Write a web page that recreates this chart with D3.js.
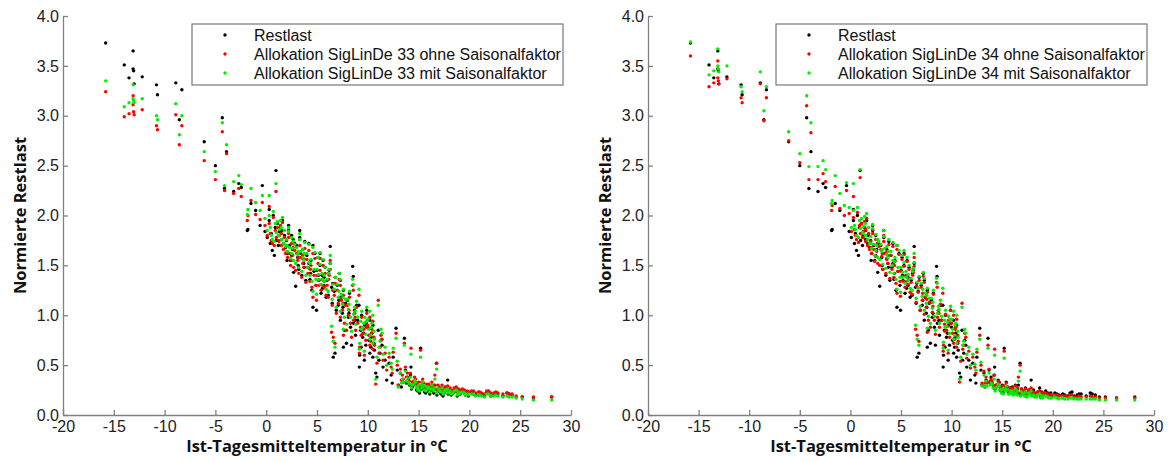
<!DOCTYPE html>
<html lang="de">
<head>
<meta charset="utf-8">
<title>Normierte Restlast</title>
<script src="https://d3js.org/d3.v7.min.js"></script>
<style>
  body { margin: 0; background: #fff; }
  svg { display: block; font-family: "Liberation Sans", Arial, sans-serif; }
  .axis path, .axis line { stroke: #808080; stroke-width: 1.3; }
  .axis text { font-size: 16px; fill: #222; }
  .title { font-family: "Open Sans", sans-serif; font-weight: bold; font-size: 16.5px; fill: #111; }
  .legend text { font-size: 16px; fill: #111; }
</style>
</head>
<body>
<div id="chart"></div>
<script>
// Ist-Tagesmitteltemperatur (°C), one entry per day, grouped by temperature band
var temp = [
  -15.8, -13.97, -13.5, -13.1, -13.1, -13.05, -13.0, -12.2, -10.8, -10.7, -8.9, -8.55, -8.3, -6.1, -5.0, -4.32, -3.9, -4.1, -3.2, -2.7, -2.45, -1.5, -1.8, -1.04, -0.6, -0.38, 0.3, 0.96, -1.86, -0.12,
  0.1, 0.3, 0.5, 0.6, 0.8, 0.9, 1.0, 0.7,
  1.1, 1.2, 1.3, 1.4, 1.5, 1.6, 1.7, 1.8, 1.9, 1.5,
  2.0, 2.1, 2.2, 2.3, 2.4, 2.5, 2.6, 2.7, 2.8, 2.9, 2.5, 2.2,
  3.0, 3.1, 3.2, 3.3, 3.4, 3.5, 3.6, 3.7, 3.8, 3.9, 3.3, 3.6,
  4.0, 4.1, 4.2, 4.3, 4.4, 4.5, 4.6, 4.7, 4.8, 4.9, 4.2, 4.6, 4.95,
  5.0, 5.1, 5.2, 5.3, 5.4, 5.5, 5.6, 5.7, 5.8, 5.9, 5.3, 5.7,
  6.0, 6.1, 6.2, 6.3, 6.44, 6.5, 6.6, 6.77, 6.8, 6.9, 6.3, 6.7,
  7.0, 7.1, 7.2, 7.3, 7.4, 7.5, 7.6, 7.7, 7.8, 7.9, 7.3, 7.6,
  8.0, 8.1, 8.2, 8.3, 8.51, 8.57, 8.6, 8.7, 8.8, 8.9, 8.4,
  9.0, 9.13, 9.17, 9.3, 9.4, 9.5, 9.66, 9.7, 9.8, 9.9, 9.2, 9.6,
  10.0, 10.1, 10.2, 10.3, 10.4, 10.5, 10.6, 10.78, 10.9, 10.5, 10.2,
  11.03, 11.2, 11.4, 11.5, 11.7, 11.86, 11.3,
  12.1, 12.3, 12.5, 12.78, 12.9, 12.4,
  13.0, 13.2, 13.4, 13.6, 13.8, 13.3, 13.7, 13.9,
  14.0, 14.25, 14.4, 14.6, 14.8, 14.2, 14.5, 14.9, 14.7,
  15.0, 15.2, 15.3, 15.5, 15.6, 15.8, 15.4, 15.9, 15.1,
  16.0, 16.2, 16.4, 16.6, 16.77, 16.9, 16.5, 16.3,
  17.0, 17.3, 17.5, 17.86, 17.7, 17.2,
  18.1, 18.4, 18.7, 19.0, 19.3, 19.6, 18.9, 19.8,
  20.2, 20.6, 21.0, 21.5, 21.9, 22.4, 22.8, 23.3, 23.7, 24.2, 24.6, 21.2, 23.9,
  25.2, 26.3, 28.1,
  13.5, 14.1, 14.3, 14.9, 15.3, 15.7, 16.1, 16.5, 16.8, 17.1, 17.4, 17.6, 17.9, 18.2, 18.5, 18.8, 19.1, 19.5, 19.9, 20.4, 20.9, 21.7, 22.1, 22.6,
  0.4, 1.25, 2.05, 2.65, 3.15, 3.75, 4.35, 5.15, 5.55, 6.15, 6.55, 7.15, 7.55, 8.15, 8.75, 9.35, 9.85, 10.35, 10.65, 11.1
];

// Restlast (black), same in both panels
var restlast = [
  3.73, 3.51, 3.38, 3.65, 3.47, 3.45, 3.32, 3.39, 3.31, 3.21, 3.33, 2.96, 3.26, 2.74, 2.50, 2.98, 2.64, 2.27, 2.24, 2.32, 2.28, 2.12, 1.86, 2.05, 1.90, 2.30, 2.06, 2.45, 1.85, 1.84,
  1.78, 1.95, 1.82, 1.65, 1.60, 1.88, 1.75, 2.00,
  1.92, 1.70, 1.84, 1.88, 1.76, 1.95, 1.72, 1.80, 1.68, 1.85,
  1.75, 1.62, 1.85, 1.70, 1.55, 1.80, 1.66, 1.43, 1.72, 1.29, 1.60, 1.90,
  1.70, 1.58, 1.46, 1.78, 1.62, 1.40, 1.66, 1.52, 1.74, 1.35, 1.85, 1.57,
  1.60, 1.48, 1.72, 1.36, 1.55, 1.25, 1.08, 1.44, 1.62, 1.30, 1.52, 1.70, 1.05,
  1.45, 1.58, 1.35, 1.50, 1.22, 1.40, 1.55, 1.30, 1.48, 1.18, 1.62, 1.38,
  1.35, 1.20, 1.45, 1.69, 1.28, 1.12, 0.58, 0.62, 1.38, 1.05, 1.52, 1.24,
  1.30, 1.10, 1.42, 0.95, 1.18, 1.02, 1.25, 0.85, 1.12, 0.72, 1.35, 0.68,
  1.15, 0.98, 1.22, 0.88, 1.49, 1.39, 0.92, 1.05, 0.80, 1.10, 0.70,
  0.95, 1.10, 0.48, 0.85, 1.00, 0.78, 0.55, 0.90, 0.70, 1.05, 0.60, 0.82,
  0.88, 0.75, 0.95, 0.68, 0.82, 0.58, 0.72, 0.42, 0.38, 0.90, 0.62,
  0.85, 0.62, 0.70, 0.48, 0.55, 0.35, 0.75,
  0.52, 0.40, 0.58, 0.87, 0.45, 0.32,
  0.30, 0.42, 0.35, 0.77, 0.32, 0.28, 0.45, 0.38,
  0.32, 0.48, 0.28, 0.35, 0.25, 0.40, 0.30, 0.27, 0.33,
  0.30, 0.67, 0.26, 0.28, 0.23, 0.27, 0.33, 0.24, 0.22,
  0.28, 0.25, 0.24, 0.30, 0.52, 0.26, 0.22, 0.30,
  0.24, 0.27, 0.22, 0.35, 0.25, 0.21,
  0.25, 0.22, 0.27, 0.21, 0.24, 0.20, 0.23, 0.22,
  0.22, 0.20, 0.21, 0.19, 0.23, 0.20, 0.21, 0.19, 0.22, 0.20, 0.18, 0.20, 0.21,
  0.18, 0.17, 0.18,
  0.33, 0.30, 0.26, 0.24, 0.29, 0.22, 0.21, 0.26, 0.20, 0.23, 0.19, 0.24, 0.21, 0.20, 0.23, 0.19, 0.21, 0.22, 0.19, 0.21, 0.20, 0.22, 0.19, 0.21,
  1.72, 1.80, 1.55, 1.76, 1.50, 1.48, 1.42, 1.40, 1.27, 1.42, 1.32, 1.15, 1.08, 1.02, 0.95, 0.68, 0.92, 0.78, 0.65, 0.55
];

// Allokation SigLinDe 33 ohne Saisonalfaktor (red, left panel)
var sig33ohne = [
  3.24, 2.99, 3.02, 3.20, 3.11, 3.04, 3.01, 3.06, 2.90, 2.86, 3.01, 2.71, 2.90, 2.55, 2.36, 2.84, 2.62, 2.25, 2.22, 2.27, 2.19, 2.15, 2.00, 2.01, 1.96, 2.13, 2.09, 2.24, 1.95, 1.90,
  1.80, 1.92, 1.75, 1.72, 1.70, 1.85, 1.78, 1.98,
  1.88, 1.75, 1.80, 1.90, 1.70, 1.93, 1.66, 1.78, 1.62, 1.82,
  1.70, 1.58, 1.78, 1.62, 1.50, 1.72, 1.60, 1.48, 1.65, 1.45, 1.55, 1.82,
  1.62, 1.55, 1.42, 1.70, 1.58, 1.38, 1.60, 1.48, 1.67, 1.33, 1.76, 1.52,
  1.56, 1.42, 1.65, 1.34, 1.50, 1.28, 1.18, 1.40, 1.57, 1.30, 1.47, 1.62, 1.15,
  1.40, 1.52, 1.30, 1.45, 1.25, 1.36, 1.50, 1.28, 1.42, 1.20, 1.57, 1.34,
  1.30, 1.18, 1.40, 1.55, 0.83, 1.10, 0.78, 0.72, 1.32, 1.02, 1.46, 1.20,
  1.25, 1.12, 1.36, 0.98, 1.15, 1.05, 1.20, 0.92, 1.10, 0.85, 1.30, 0.80,
  1.10, 1.00, 1.18, 0.92, 1.30, 1.25, 0.95, 1.02, 0.85, 1.08, 0.78,
  0.92, 1.20, 0.62, 0.88, 0.98, 0.82, 0.60, 0.92, 0.75, 1.02, 0.68, 0.86,
  0.90, 0.80, 0.98, 0.74, 0.86, 0.66, 0.78, 0.31, 0.52, 0.94, 0.70,
  1.15, 0.68, 0.76, 0.55, 0.62, 0.45, 0.80,
  0.58, 0.48, 0.63, 0.82, 0.50, 0.42,
  0.30, 0.46, 0.40, 0.72, 0.38, 0.35, 0.48, 0.42,
  0.36, 0.67, 0.33, 0.38, 0.31, 0.42, 0.34, 0.30, 0.36,
  0.33, 0.65, 0.30, 0.32, 0.28, 0.31, 0.36, 0.29, 0.27,
  0.31, 0.29, 0.28, 0.40, 0.52, 0.30, 0.27, 0.33,
  0.28, 0.30, 0.26, 0.29, 0.28, 0.26,
  0.27, 0.25, 0.28, 0.24, 0.26, 0.23, 0.26, 0.24,
  0.24, 0.22, 0.23, 0.21, 0.24, 0.22, 0.22, 0.21, 0.22, 0.21, 0.19, 0.22, 0.21,
  0.18, 0.18, 0.18,
  0.36, 0.34, 0.30, 0.28, 0.33, 0.27, 0.26, 0.30, 0.25, 0.27, 0.24, 0.28, 0.25, 0.24, 0.27, 0.23, 0.25, 0.25, 0.23, 0.24, 0.23, 0.24, 0.22, 0.23,
  1.82, 1.74, 1.64, 1.68, 1.58, 1.56, 1.46, 1.35, 1.30, 1.36, 1.25, 1.18, 1.12, 1.05, 0.98, 0.80, 0.88, 0.82, 0.70, 0.62
];

// Allokation SigLinDe 33 mit Saisonalfaktor (green, left panel)
var sig33mit = [
  3.35, 3.09, 3.13, 3.31, 3.17, 3.15, 3.13, 3.17, 3.00, 2.96, 3.12, 2.81, 3.00, 2.64, 2.44, 2.93, 2.71, 2.30, 2.34, 2.40, 2.31, 2.27, 2.06, 2.13, 2.05, 2.20, 2.20, 2.32, 2.01, 1.97,
  1.85, 2.00, 1.80, 1.76, 1.74, 1.92, 1.83, 2.04,
  1.94, 1.80, 1.86, 1.95, 1.76, 1.98, 1.72, 1.85, 1.69, 1.88,
  1.76, 1.64, 1.84, 1.68, 1.57, 1.78, 1.67, 1.55, 1.71, 1.52, 1.62, 1.88,
  1.68, 1.61, 1.48, 1.76, 1.64, 1.44, 1.66, 1.55, 1.73, 1.40, 1.82, 1.58,
  1.62, 1.48, 1.71, 1.40, 1.56, 1.34, 1.24, 1.46, 1.63, 1.36, 1.53, 1.68, 1.21,
  1.46, 1.58, 1.36, 1.51, 1.31, 1.42, 1.56, 1.34, 1.48, 1.26, 1.63, 1.40,
  1.36, 1.24, 1.46, 1.60, 0.89, 1.16, 0.74, 0.68, 1.38, 1.08, 1.52, 1.26,
  1.31, 1.18, 1.42, 1.04, 1.21, 1.11, 1.26, 0.98, 1.16, 0.91, 1.36, 0.86,
  1.16, 1.06, 1.24, 0.98, 1.36, 1.31, 1.01, 1.08, 0.91, 1.14, 0.84,
  0.98, 1.26, 0.66, 0.94, 1.04, 0.88, 0.64, 0.98, 0.81, 1.08, 0.72, 0.92,
  0.96, 0.86, 1.04, 0.80, 0.92, 0.72, 0.84, 0.36, 0.58, 1.00, 0.76,
  1.10, 0.74, 0.82, 0.61, 0.68, 0.50, 0.86,
  0.62, 0.52, 0.67, 0.77, 0.54, 0.46,
  0.28, 0.42, 0.36, 0.70, 0.34, 0.32, 0.44, 0.37,
  0.33, 0.61, 0.30, 0.35, 0.28, 0.38, 0.31, 0.27, 0.33,
  0.30, 0.58, 0.27, 0.29, 0.25, 0.28, 0.33, 0.26, 0.24,
  0.28, 0.26, 0.25, 0.36, 0.46, 0.27, 0.24, 0.30,
  0.25, 0.27, 0.23, 0.26, 0.25, 0.23,
  0.24, 0.22, 0.25, 0.21, 0.23, 0.20, 0.23, 0.21,
  0.21, 0.19, 0.20, 0.18, 0.21, 0.19, 0.19, 0.18, 0.19, 0.18, 0.17, 0.19, 0.18,
  0.16, 0.15, 0.15,
  0.33, 0.31, 0.27, 0.25, 0.30, 0.24, 0.23, 0.27, 0.22, 0.24, 0.21, 0.25, 0.22, 0.21, 0.24, 0.20, 0.22, 0.22, 0.20, 0.21, 0.20, 0.21, 0.19, 0.20,
  1.88, 1.80, 1.70, 1.74, 1.64, 1.62, 1.52, 1.41, 1.36, 1.42, 1.31, 1.24, 1.18, 1.11, 1.04, 0.86, 0.94, 0.88, 0.76, 0.68
];

// Allokation SigLinDe 34 ohne Saisonalfaktor (red, right panel)
var sig34ohne = [
  3.60, 3.29, 3.33, 3.55, 3.38, 3.35, 3.32, 3.37, 3.18, 3.13, 3.32, 2.95, 3.18, 2.75, 2.53, 3.10, 2.83, 2.36, 2.36, 2.42, 2.34, 2.29, 2.10, 2.07, 2.00, 2.25, 2.19, 2.38, 2.05, 2.02,
  1.84, 1.98, 1.80, 1.76, 1.73, 1.90, 1.82, 2.03,
  1.92, 1.78, 1.84, 1.94, 1.74, 1.97, 1.70, 1.82, 1.66, 1.86,
  1.74, 1.62, 1.82, 1.66, 1.54, 1.76, 1.64, 1.52, 1.69, 1.50, 1.59, 1.86,
  1.66, 1.59, 1.46, 1.74, 1.62, 1.42, 1.64, 1.52, 1.71, 1.37, 1.80, 1.56,
  1.60, 1.46, 1.69, 1.38, 1.54, 1.32, 1.22, 1.44, 1.61, 1.34, 1.51, 1.66, 1.19,
  1.44, 1.56, 1.34, 1.49, 1.28, 1.40, 1.54, 1.31, 1.46, 1.23, 1.61, 1.37,
  1.33, 1.21, 1.43, 1.58, 0.86, 1.13, 0.80, 0.74, 1.35, 1.05, 1.49, 1.23,
  1.28, 1.15, 1.39, 1.01, 1.18, 1.08, 1.23, 0.95, 1.13, 0.88, 1.33, 0.83,
  1.13, 1.03, 1.21, 0.95, 1.33, 1.28, 0.98, 1.05, 0.88, 1.11, 0.81,
  0.95, 1.22, 0.64, 0.91, 1.01, 0.85, 0.62, 0.95, 0.78, 1.05, 0.70, 0.89,
  0.92, 0.82, 1.00, 0.76, 0.88, 0.68, 0.80, 0.33, 0.54, 0.96, 0.72,
  1.12, 0.70, 0.78, 0.57, 0.64, 0.47, 0.82,
  0.58, 0.48, 0.63, 0.80, 0.50, 0.42,
  0.32, 0.44, 0.38, 0.70, 0.34, 0.32, 0.46, 0.36,
  0.34, 0.66, 0.30, 0.34, 0.28, 0.40, 0.31, 0.28, 0.32,
  0.29, 0.64, 0.27, 0.28, 0.24, 0.27, 0.32, 0.25, 0.24,
  0.27, 0.25, 0.24, 0.38, 0.50, 0.26, 0.23, 0.29,
  0.24, 0.26, 0.22, 0.27, 0.24, 0.22,
  0.23, 0.21, 0.24, 0.20, 0.22, 0.19, 0.22, 0.20,
  0.20, 0.19, 0.19, 0.18, 0.20, 0.18, 0.18, 0.18, 0.19, 0.18, 0.17, 0.19, 0.18,
  0.17, 0.17, 0.17,
  0.32, 0.30, 0.27, 0.25, 0.29, 0.24, 0.23, 0.27, 0.22, 0.24, 0.21, 0.25, 0.22, 0.21, 0.23, 0.20, 0.22, 0.21, 0.20, 0.20, 0.19, 0.20, 0.18, 0.19,
  1.86, 1.78, 1.68, 1.72, 1.62, 1.60, 1.50, 1.39, 1.34, 1.40, 1.29, 1.22, 1.16, 1.09, 1.02, 0.84, 0.92, 0.86, 0.74, 0.66
];

// Allokation SigLinDe 34 mit Saisonalfaktor (green, right panel)
var sig34mit = [
  3.74, 3.41, 3.45, 3.67, 3.50, 3.47, 3.44, 3.50, 3.29, 3.24, 3.44, 3.05, 3.29, 2.84, 2.62, 3.20, 2.93, 2.49, 2.49, 2.55, 2.46, 2.40, 2.15, 2.22, 2.10, 2.33, 2.32, 2.46, 2.12, 2.08,
  1.88, 2.05, 1.86, 1.80, 1.78, 1.95, 1.87, 2.08,
  1.97, 1.83, 1.89, 1.99, 1.80, 2.02, 1.76, 1.88, 1.72, 1.92,
  1.79, 1.67, 1.87, 1.71, 1.60, 1.81, 1.70, 1.58, 1.74, 1.56, 1.65, 1.91,
  1.71, 1.64, 1.51, 1.79, 1.67, 1.47, 1.69, 1.58, 1.76, 1.43, 1.85, 1.61,
  1.64, 1.50, 1.73, 1.42, 1.58, 1.36, 1.26, 1.48, 1.65, 1.38, 1.55, 1.70, 1.23,
  1.48, 1.60, 1.38, 1.53, 1.32, 1.44, 1.58, 1.35, 1.50, 1.27, 1.65, 1.41,
  1.37, 1.25, 1.47, 1.62, 0.90, 1.17, 0.76, 0.70, 1.39, 1.09, 1.53, 1.27,
  1.32, 1.19, 1.43, 1.05, 1.22, 1.12, 1.27, 0.99, 1.17, 0.92, 1.37, 0.87,
  1.17, 1.07, 1.25, 0.99, 1.37, 1.32, 1.02, 1.09, 0.92, 1.15, 0.85,
  0.99, 1.27, 0.67, 0.95, 1.05, 0.89, 0.65, 0.99, 0.82, 1.09, 0.73, 0.93,
  0.96, 0.86, 1.04, 0.80, 0.92, 0.72, 0.84, 0.36, 0.58, 1.00, 0.76,
  1.08, 0.74, 0.82, 0.61, 0.68, 0.50, 0.86,
  0.61, 0.51, 0.66, 0.76, 0.53, 0.45,
  0.29, 0.40, 0.34, 0.67, 0.30, 0.28, 0.42, 0.32,
  0.31, 0.60, 0.27, 0.31, 0.25, 0.36, 0.28, 0.25, 0.29,
  0.26, 0.57, 0.24, 0.25, 0.21, 0.24, 0.29, 0.22, 0.21,
  0.24, 0.22, 0.21, 0.34, 0.44, 0.23, 0.20, 0.26,
  0.21, 0.23, 0.19, 0.24, 0.21, 0.19,
  0.20, 0.18, 0.21, 0.17, 0.19, 0.17, 0.19, 0.17,
  0.18, 0.16, 0.17, 0.16, 0.17, 0.16, 0.16, 0.16, 0.16, 0.16, 0.15, 0.16, 0.16,
  0.15, 0.15, 0.15,
  0.29, 0.27, 0.24, 0.22, 0.26, 0.21, 0.20, 0.24, 0.19, 0.21, 0.18, 0.22, 0.19, 0.18, 0.20, 0.17, 0.19, 0.18, 0.17, 0.17, 0.17, 0.17, 0.16, 0.16,
  1.90, 1.82, 1.72, 1.76, 1.66, 1.64, 1.54, 1.43, 1.38, 1.44, 1.33, 1.26, 1.20, 1.13, 1.06, 0.88, 0.96, 0.90, 0.78, 0.70
];

var xTicks = [-20, -15, -10, -5, 0, 5, 10, 15, 20, 25, 30];
var yTicks = [0.0, 0.5, 1.0, 1.5, 2.0, 2.5, 3.0, 3.5, 4.0];
var seriesColors = ["#000000", "#ff0000", "#00ee00"];

var panels = [
  { left: 63, right: 571, labels: ["Restlast", "Allokation SigLinDe 33 ohne Saisonalfaktor", "Allokation SigLinDe 33 mit Saisonalfaktor"],
    series: [restlast, sig33ohne, sig33mit], legendX: 192, legendW: 371 },
  { left: 648, right: 1154, labels: ["Restlast", "Allokation SigLinDe 34 ohne Saisonalfaktor", "Allokation SigLinDe 34 mit Saisonalfaktor"],
    series: [restlast, sig34ohne, sig34mit], legendX: 776, legendW: 371 }
];

var W = 1169, H = 461, plotTop = 16, plotBottom = 415;

var svg = d3.select("#chart").append("svg")
  .attr("width", W).attr("height", H);

var y = d3.scaleLinear().domain([0, 4]).range([plotBottom, plotTop]);

panels.forEach(function(p) {
  var x = d3.scaleLinear().domain([-20, 30]).range([p.left, p.right]);
  var g = svg.append("g");

  // points: black first, then red, green on top
  p.series.forEach(function(vals, si) {
    var pts = d3.range(Math.min(temp.length, vals.length)).map(function(i) { return [temp[i], vals[i]]; });
    g.append("g").selectAll("circle")
      .data(pts)
      .join("circle")
      .attr("cx", d => x(d[0]))
      .attr("cy", d => y(d[1]))
      .attr("r", 1.7)
      .attr("fill", seriesColors[si]);
  });

  g.append("g")
    .attr("class", "axis")
    .attr("transform", `translate(0,${plotBottom})`)
    .call(d3.axisBottom(x).tickValues(xTicks).tickFormat(d => String(d)).tickSize(-5).tickSizeOuter(0).tickPadding(6));

  g.append("g")
    .attr("class", "axis")
    .attr("transform", `translate(${p.left},0)`)
    .call(d3.axisLeft(y).tickValues(yTicks).tickFormat(d3.format(".1f")).tickSize(-5).tickSizeOuter(0).tickPadding(4));

  g.selectAll(".axis").attr("font-family", null).attr("font-size", null);

  g.append("text")
    .attr("class", "title")
    .attr("x", (p.left + p.right) / 2)
    .attr("y", 452)
    .attr("text-anchor", "middle")
    .text("Ist-Tagesmitteltemperatur in °C");

  g.append("text")
    .attr("class", "title")
    .attr("transform", `translate(${p.left - 37},${(plotTop + plotBottom) / 2}) rotate(-90)`)
    .attr("text-anchor", "middle")
    .text("Normierte Restlast");

  // legend
  var lg = g.append("g").attr("class", "legend");
  lg.append("rect")
    .attr("x", p.legendX).attr("y", 24)
    .attr("width", p.legendW).attr("height", 61)
    .attr("fill", "#fff").attr("stroke", "#777").attr("stroke-width", 1.2);
  p.labels.forEach(function(lab, i) {
    lg.append("circle")
      .attr("cx", p.legendX + 33).attr("cy", 35 + i * 19)
      .attr("r", 1.7).attr("fill", seriesColors[i]);
    lg.append("text")
      .attr("x", p.legendX + 62).attr("y", 41 + i * 19)
      .text(lab);
  });
});
</script>
</body>
</html>
